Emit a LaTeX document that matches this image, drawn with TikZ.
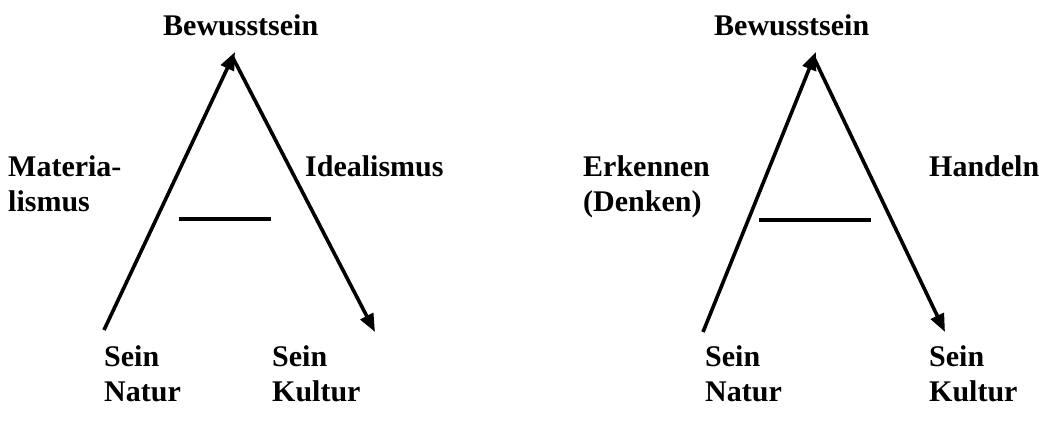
\documentclass[tikz,border=0pt]{standalone}
\usepackage{fontspec}
\setmainfont{Liberation Serif}
\usetikzlibrary{arrows.meta}
\begin{document}
\begin{tikzpicture}[x=1pt,y=-1pt,
  lbl/.style={anchor=base west,inner sep=0pt,font=\fontsize{30}{35}\selectfont\bfseries},
  arr/.style={line width=3.6pt,-{Triangle[length=18pt,width=14pt]}},
  bar/.style={line width=3.6pt}]
\useasboundingbox (0,0) rectangle (1042,432);
% left diagram
\coordinate (l0) at (104,330);
\coordinate (la) at (235,52);
\coordinate (lb) at (233,58);
\coordinate (l1) at (375,332);
\coordinate (lc1) at (179,219);
\coordinate (lc2) at (271,219);
\draw[arr] (l0) -- (la);
\draw[arr] (lb) -- (l1);
\draw[bar] (lc1) -- (lc2);
\node[lbl] (lbew) at (163,35) {Bewusstsein};
\node[lbl] (lmat) at (8,176) {Materia-};
\node[lbl] (lmat2) at (8,211) {lismus};
\node[lbl] (lide) at (305,176) {Idealismus};
\node[lbl] (ls1) at (104,366) {Sein};
\node[lbl] (ln1) at (104,401) {Natur};
\node[lbl] (ls2) at (272,366) {Sein};
\node[lbl] (lk2) at (272,401) {Kultur};
% right diagram
\coordinate (r0) at (703,332);
\coordinate (ra) at (816,52);
\coordinate (rb) at (814,58);
\coordinate (r1) at (945,332);
\coordinate (rc1) at (759,220);
\coordinate (rc2) at (871,220);
\draw[arr] (r0) -- (ra);
\draw[arr] (rb) -- (r1);
\draw[bar] (rc1) -- (rc2);
\node[lbl] (rbew) at (714,35) {Bewusstsein};
\node[lbl] (rerk) at (583,176) {Erkennen};
\node[lbl] (rden) at (583,211) {(Denken)};
\node[lbl] (rhan) at (929,176) {Handeln};
\node[lbl] (rs1) at (705,366) {Sein};
\node[lbl] (rn1) at (705,401) {Natur};
\node[lbl] (rs2) at (929,366) {Sein};
\node[lbl] (rk2) at (929,401) {Kultur};
\end{tikzpicture}
\end{document}
